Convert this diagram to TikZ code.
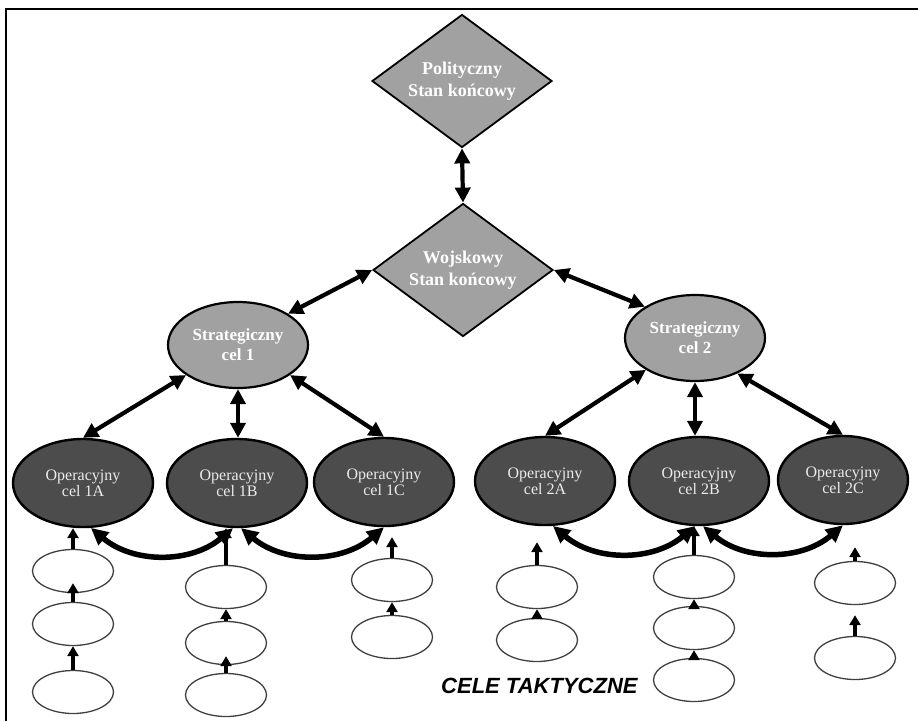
\documentclass[tikz,border=0pt]{standalone}
\usepackage{fontspec}
\setmainfont{Liberation Serif}
\newfontfamily\labelsans{Liberation Sans}
\usetikzlibrary{shapes.geometric,arrows.meta}

\begin{document}
\begin{tikzpicture}[x=1pt,y=-1pt,
  endstate/.style={diamond, draw=black, line width=1.8pt, fill=gray!74,
    aspect=1.35, inner sep=0pt, minimum width=180pt, minimum height=133pt,
    text=white, font=\bfseries\fontsize{18}{22}\selectfont, align=center},
  strat/.style={ellipse, draw=black, line width=2.2pt, fill=gray!74,
    minimum width=140pt, minimum height=86pt, inner sep=0pt,
    text=white, font=\bfseries\fontsize{17}{20}\selectfont, align=center},
  oper/.style={ellipse, draw=black, line width=2.4pt, fill=black!70,
    minimum width=140pt, minimum height=88pt, inner sep=0pt,
    text=white!92!black, font=\fontsize{16}{16}\selectfont, align=center},
  tact/.style={ellipse, draw=black!75, line width=1.3pt, fill=white,
    minimum width=81pt, minimum height=43pt, inner sep=0pt},
  link/.style={line width=4.2pt,
    {Triangle[length=15pt,width=15pt]}-{Triangle[length=15pt,width=15pt]}},
  peer/.style={line width=5.5pt,
    {Triangle[length=17pt,width=16pt]}-{Triangle[length=17pt,width=16pt]}},
  feed/.style={line width=3.2pt, -{Triangle[length=10pt,width=11pt]}},
]
% page area and frame
\path[fill=white] (0,0) rectangle (918,721);
\useasboundingbox (0,0) rectangle (918,721);
\draw[line width=1.6pt] (6,721) -- (6,9) -- (918,9);

% end states
\node[endstate] (pol) at (462,81) {Polityczny\\Stan końcowy};
\node[endstate] (woj) at (463,270) {Wojskowy\\Stan końcowy};

% strategic goals
\node[strat] (s1) at (238,345) {Strategiczny\\cel 1};
\node[strat] (s2) at (695,338) {Strategiczny\\cel 2};

% operational goals
\node[oper] (o1a) at (83,483)  {Operacyjny\\cel 1A};
\node[oper] (o1b) at (237,483) {Operacyjny\\cel 1B};
\node[oper] (o1c) at (384,482) {Operacyjny\\cel 1C};
\node[oper] (o2a) at (545,481) {Operacyjny\\cel 2A};
\node[oper] (o2b) at (699,481) {Operacyjny\\cel 2B};
\node[oper, minimum width=130pt] (o2c) at (843,480) {Operacyjny\\cel 2C};

% tactical goals
\node[tact] (t1a) at (73,571) {};
\node[tact] (t1b) at (73,624) {};
\node[tact] (t1c) at (73,692) {};
\node[tact] (t2a) at (226,587) {};
\node[tact] (t2b) at (226,643) {};
\node[tact] (t2c) at (226,695) {};
\node[tact] (t3a) at (392,580) {};
\node[tact] (t3b) at (392,637) {};
\node[tact] (t4a) at (537,587) {};
\node[tact] (t4b) at (537,640) {};
\node[tact] (t5a) at (694,577) {};
\node[tact] (t5b) at (694,628) {};
\node[tact] (t5c) at (694,680) {};
\node[tact] (t6a) at (855,583) {};
\node[tact] (t6b) at (855,658) {};

\node[font=\labelsans\bfseries\itshape\fontsize{22}{24}\selectfont, anchor=base west,
  inner sep=0pt] (tlabel) at (441,693) {CELE TAKTYCZNE};

% hierarchy links
\draw[link] (pol.south) -- (woj.north);
\draw[link] (woj.west) -- (s1.32);
\draw[link] (woj.east) -- (s2.148);
\draw[link] (s1.210) -- (o1a.north);
\draw[link] (s1.south) -- (s1.south |- o1b.north);
\draw[link] (s1.330) -- (o1c.north);
\draw[link] (s2.213) -- (o2a.north);
\draw[link] (s2.south) -- (s2.south |- o2b.north);
\draw[link] (s2.320) -- (o2c.north);

% links between operational goals
\draw[peer] (o1a.-80) to[bend right=40] (o1b.-95);
\draw[peer] (o1b.-85) to[bend right=40] (o1c.-90);
\draw[peer] (o2a.-80) to[bend right=40] (o2b.-95);
\draw[peer] (o2b.-85) to[bend right=40] (o2c.-90);

% tactical contributions
\draw[feed] (t1a.north) -- (t1a.north |- o1a.south);
\draw[feed, shorten >=-10pt] (t1b.north) -- (t1a.south);
\draw[feed] (t1c.north) -- (t1b.south);
\draw[feed] (t2a.north) -- (t2a.north |- o1b.south);
\draw[feed] (t2b.north) -- (t2a.south);
\draw[feed, shorten >=-9pt] (t2c.north) -- (t2b.south);
\draw[feed, shorten >=10pt] (t3a.north) -- (t3a.north |- o1c.south);
\draw[feed] (t3b.north) -- (t3a.south);
\draw[feed, shorten >=16pt] (t4a.north) -- (t4a.north |- o2a.south);
\draw[feed] (t4b.north) -- (t4a.south);
\draw[feed] (t5a.north) -- (t5a.north |- o2b.south);
\draw[feed] (t5b.north) -- (t5a.south);
\draw[feed] (t5c.north) -- (t5b.south);
\draw[feed, shorten >=22pt] (t6a.north) -- (t6a.north |- o2c.south);
\draw[feed, shorten >=10pt] (t6b.north) -- (t6a.south);
\end{tikzpicture}
\end{document}
